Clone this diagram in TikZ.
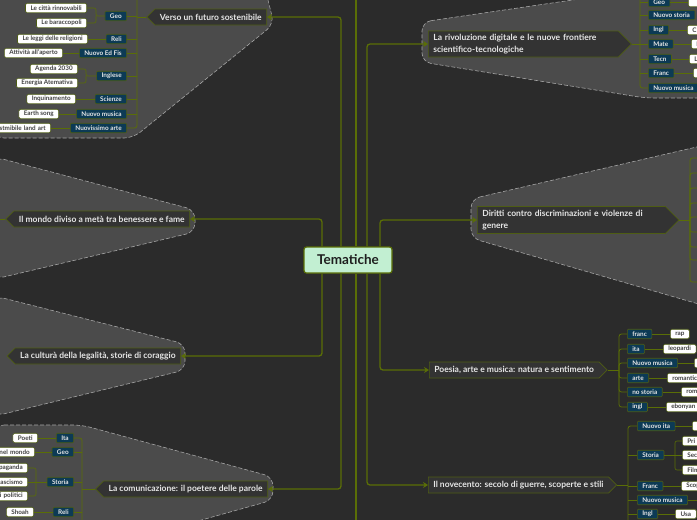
\documentclass[tikz,border=0pt]{standalone}
\usepackage{fontspec}
\setmainfont{Lato}
\usetikzlibrary{arrows.meta,shapes.symbols}
\definecolor{canvas}{HTML}{2B2B2B}
\definecolor{zone}{HTML}{4B4B4B}
\definecolor{zoneline}{HTML}{A5A5A5}
\definecolor{olive}{HTML}{5A6E06}
\definecolor{oliveedge}{HTML}{4E5D14}
\definecolor{topicfill}{HTML}{333333}
\definecolor{subjfill}{HTML}{0C3A55}
\definecolor{mint}{HTML}{C2EFD2}
\definecolor{ink}{HTML}{1E1E1E}
\definecolor{chalk}{HTML}{E6E6E6}
\tikzset{
  zonearea/.style={fill=zone, draw=zoneline, dash pattern=on 4pt off 2pt, line width=0.6pt, rounded corners=9pt},
  rootbox/.style={fill=mint, draw=olive, line width=1.2pt, rounded corners=2.5pt, minimum width=88pt, minimum height=26pt,
    font=\bfseries\fontsize{13.5}{16}\selectfont, text=ink},
  topic/.style={shape=signal, signal pointer angle=90, fill=topicfill, draw=oliveedge, line width=0.7pt, text=chalk,
    font=\bfseries\fontsize{8.5}{11.5}\selectfont, minimum height=16pt, inner xsep=5pt, inner ysep=2pt},
  topicl/.style={topic, signal to=west},
  topicr/.style={topic, signal to=east, align=left},
  subj/.style={fill=subjfill, draw=oliveedge, line width=0.6pt, rounded corners=1pt, text=chalk,
    font=\bfseries\fontsize{6.4}{7}\selectfont, minimum height=9.5pt, inner xsep=5pt, inner ysep=0pt},
  leaf/.style={fill=white, draw=oliveedge, line width=0.6pt, rounded corners=1.5pt, text=ink!85,
    font=\bfseries\fontsize{6.3}{7}\selectfont, minimum height=9.5pt, inner xsep=5pt, inner ysep=0pt},
  cutleft/.style={leaf, text width=#1, align=right},
  cutright/.style={leaf, text width=#1, align=left},
  trunk/.style={draw=olive, line width=1.3pt, rounded corners=3pt, -{Stealth[length=5pt, width=6pt]}},
  branch/.style={draw=olive, line width=0.8pt, rounded corners=2.5pt},
  twig/.style={draw=olive, line width=0.6pt, rounded corners=2pt},
}

\begin{document}
\begin{tikzpicture}[x=1pt, y=-1pt]
    \useasboundingbox (0,0) rectangle (697,520);
    \fill[canvas] (0,0) rectangle (697,520);
    \clip (0,0) rectangle (697,520);
    % grey zones round the open topics
    \path[zonearea] (-5,-12) -- (265,-12) -- (274,24) -- (133,138) -- (-5,138) -- cycle;
    \path[zonearea] (-5,157) -- (195,210) -- (195,232) -- (-5,279) -- cycle;
    \path[zonearea] (-5,296) -- (185,344) -- (185,370) -- (-5,416) -- cycle;
    \path[zonearea] (-5,425) -- (82,425) -- (273,477) -- (273,500) -- (130,540) -- (-5,540) -- cycle;
    \path[zonearea] (422,22) -- (600,-4) -- (740,-25) -- (740,98) -- (645,98) -- (422,62) -- cycle;
    \path[zonearea] (471,199) -- (740,137) -- (740,316) -- (471,238) -- cycle;
    % root
    \node[rootbox] (tem) at (348,260) {Tematiche};
    % topics, left side
    \node[topicl, anchor=east] (verso) at (267,17) {Verso un futuro sostenibile};
    \node[topicl, anchor=east] (mondo) at (190,219) {Il mondo diviso a metà tra benessere e fame};
    \node[topicl, anchor=east] (legal) at (181,356) {La culturà della legalità, storie di coraggio};
    \node[topicl, anchor=east] (comun) at (268,489) {La comunicazione: il poetere delle parole};
    % topics, right side
    \node[topicr, anchor=west, text width=180pt, minimum height=26pt] (rivol) at (428,44) {La rivoluzione digitale e le nuove frontiere\\scientifico-tecnologiche};
    \node[topicr, anchor=west, text width=178pt, minimum height=27pt] (dirit) at (477,220) {Diritti contro discriminazioni e violenze di\\genere};
    \node[topicr, anchor=west] (poes) at (429,370) {Poesia, arte e musica: natura e sentimento};
    \node[topicr, anchor=west] (novec) at (428,485) {Il novecento: secolo di guerre, scoperte e stili};
    % root to topics
    \coordinate (uptop) at (356,-5);
    \coordinate (downbot) at (356,525);
    \draw[trunk] ([xshift=-7pt]tem.north) |- (verso.east);
    \draw[trunk] ([xshift=-26pt]tem.north) |- (mondo.east);
    \draw[trunk] ([xshift=-26pt]tem.south) |- (legal.east);
    \draw[trunk] ([xshift=-7pt]tem.south) |- (comun.east);
    \draw[trunk] ([xshift=19pt]tem.north) |- (rivol.west);
    \draw[trunk] ([xshift=32pt]tem.north) |- (dirit.west);
    \draw[trunk] ([xshift=32pt]tem.south) |- (poes.west);
    \draw[trunk] ([xshift=19pt]tem.south) |- (novec.west);
    \draw[trunk, -] ([xshift=8pt]tem.north) -- (uptop);
    \draw[trunk, -] ([xshift=8pt]tem.south) -- (downbot);
    % Verso un futuro sostenibile
    \node[subj, anchor=east] (vgeo) at (127,16) {Geo};
    \node[subj, anchor=east] (vreli) at (127,39) {Reli};
    \node[subj, anchor=east] (vedf) at (127,53) {Nuovo Ed Fis};
    \node[subj, anchor=east] (vingl) at (127,76) {Inglese};
    \node[subj, anchor=east] (vsci) at (127,99) {Scienze};
    \node[subj, anchor=east] (vmus) at (127,114) {Nuovo musica};
    \node[subj, anchor=east] (varte) at (127,128) {Nuovissimo arte};
    \node[leaf, anchor=east] (vcity) at (87,8) {Le città rinnovabili};
    \node[leaf, anchor=east] (vslum) at (87,23) {Le baraccopoli};
    \node[leaf, anchor=east] (vlaw) at (88,39) {Le leggi delle religioni};
    \node[leaf, anchor=east] (vout) at (63,53) {Attività all'aperto};
    \node[leaf, anchor=east] (vagen) at (78,69) {Agenda 2030};
    \node[leaf, anchor=east] (vener) at (78,83) {Energia Atemativa};
    \node[leaf, anchor=east] (vinq) at (76,99) {Inquinamento};
    \node[leaf, anchor=east] (vsong) at (59,114) {Earth song};
    \node[cutleft=62pt, anchor=east] (vland) at (51,128) {stmibile land art};
    \coordinate (vs) at (137,17);
    \coordinate (vtop) at (137,-5);
    \coordinate (vgb) at (96,16);
    \coordinate (vib) at (86,76);
    \draw[branch] (verso.west) -- (vs);
    \draw[branch] (vtop) |- (varte.east);
    \foreach \n in {vgeo,vreli,vedf,vingl,vsci,vmus}
      \draw[branch] (\n.east) -- (\n.east -| vs);
    \draw[twig] (vgeo.west) -- (vgb) |- (vcity.east);
    \draw[twig] (vgb) |- (vslum.east);
    \draw[twig] (vreli.west) -- (vlaw.east);
    \draw[twig] (vedf.west) -- (vout.east);
    \draw[twig] (vingl.west) -- (vib) |- (vagen.east);
    \draw[twig] (vib) |- (vener.east);
    \draw[twig] (vsci.west) -- (vinq.east);
    \draw[twig] (vmus.west) -- (vsong.east);
    \draw[twig] (varte.west) -- (vland.east);
    % Il mondo diviso / legalita
    \coordinate (mleft) at (-5,219);
    \draw[branch] (mondo.west) -- (mleft);
    % La comunicazione
    \node[subj, anchor=east] (cita) at (74,438) {Ita};
    \node[subj, anchor=east] (cgeo) at (74,452) {Geo};
    \node[subj, anchor=east] (cstor) at (74,482) {Storia};
    \node[subj, anchor=east] (creli) at (74,512) {Reli};
    \node[leaf, anchor=east] (cpoet) at (38,438) {Poeti};
    \node[cutleft=50pt, anchor=east] (cworld) at (35,452) {nel mondo};
    \node[cutleft=50pt, anchor=east] (cprop) at (28,468) {opaganda};
    \node[cutleft=50pt, anchor=east] (cfasc) at (28,482) {ascismo};
    \node[cutleft=50pt, anchor=east] (cpol) at (28,496) {i politici};
    \node[leaf, anchor=east] (cshoah) at (34,512) {Shoah};
    \coordinate (cs) at (82,489);
    \coordinate (cbot) at (82,525);
    \coordinate (csb) at (36,482);
    \draw[branch] (comun.west) -- (cs);
    \draw[branch] (cita.east) -| (cbot);
    \foreach \n in {cgeo,cstor,creli}
      \draw[branch] (\n.east) -- (\n.east -| cs);
    \draw[twig] (cita.west) -- (cpoet.east);
    \draw[twig] (cgeo.west) -- (cworld.east);
    \draw[twig] (cstor.west) -- (cfasc.east);
    \draw[twig] (csb) |- (cprop.east);
    \draw[twig] (csb) |- (cpol.east);
    \draw[twig] (creli.west) -- (cshoah.east);
    % La rivoluzione digitale
    \node[subj, anchor=west] (rgeo) at (648,2) {Geo};
    \node[subj, anchor=west] (rstor) at (648,15) {Nuovo storia};
    \node[subj, anchor=west] (ringl) at (648,30) {Ingl};
    \node[subj, anchor=west] (rmate) at (648,44) {Mate};
    \node[subj, anchor=west] (rtecn) at (648,59) {Tecn};
    \node[subj, anchor=west] (rfran) at (648,73) {Franc};
    \node[subj, anchor=west] (rmus) at (648,88) {Nuovo musica};
    \node[cutright=30pt, anchor=west] (rgeoa) at (688,2) {};
    \node[cutright=30pt, anchor=west] (ringla) at (687,30) {C};
    \node[cutright=30pt, anchor=west] (rmatea) at (691,44) {I};
    \node[cutright=30pt, anchor=west] (rtecna) at (689,59) {L};
    \node[cutright=30pt, anchor=west] (rfrana) at (693,73) {};
    \coordinate (rs) at (640,44);
    \coordinate (rtop) at (640,-5);
    \draw[branch] (rivol.east) -- (rs);
    \draw[branch] (rtop) |- (rmus.west);
    \foreach \n in {rgeo,rstor,ringl,rmate,rtecn,rfran}
      \draw[branch] (\n.west) -- (\n.west -| rs);
    \foreach \n in {rgeo,ringl,rmate,rtecn,rfran}
      \draw[twig] (\n.east) -- (\n a.west);
    % Diritti
    \coordinate (ds) at (690,220);
    \draw[branch] (dirit.east) -- (ds);
    \foreach \yy in {158,173,188,203,217,232,247,260,282}{
      \coordinate (dx\yy) at (700,\yy);
      \draw[branch] (ds) |- (dx\yy);
    }
    % Poesia, arte e musica
    \node[subj, anchor=west] (pfran) at (627,334) {franc};
    \node[subj, anchor=west] (pita) at (627,349) {ita};
    \node[subj, anchor=west] (pmus) at (627,363) {Nuovo musica};
    \node[subj, anchor=west] (parte) at (627,378) {arte};
    \node[subj, anchor=west] (pstor) at (627,392) {no storia};
    \node[subj, anchor=west] (pingl) at (627,407) {ingl};
    \node[leaf, anchor=west] (pfrana) at (670,334) {rap};
    \node[leaf, anchor=west] (pitaa) at (663,349) {leopardi};
    \node[cutright=30pt, anchor=west] (pmusa) at (694,363) {};
    \node[cutright=40pt, anchor=west] (partea) at (667,378) {romantic};
    \node[cutright=40pt, anchor=west] (pstora) at (681,392) {rom};
    \node[cutright=40pt, anchor=west] (pingla) at (666,407) {ebonyan};
    \coordinate (ps) at (619,370);
    \draw[branch] (poes.east) -- (ps);
    \foreach \n in {pfran,pita,pmus,parte,pstor,pingl}{
      \draw[branch] (ps) |- (\n.west);
      \draw[twig] (\n.east) -- (\n a.west);
    }
    % Il novecento
    \node[subj, anchor=west] (nita) at (637,426) {Nuovo ita};
    \node[subj, anchor=west] (nstor) at (637,455) {Storia};
    \node[subj, anchor=west] (nfran) at (637,486) {Franc};
    \node[subj, anchor=west] (nmus) at (637,500) {Nuovo musica};
    \node[subj, anchor=west] (ningl) at (637,514) {Ingl};
    \node[cutright=30pt, anchor=west] (nitaa) at (692,426) {};
    \node[cutright=30pt, anchor=west] (nwar1) at (682,441) {Pri};
    \node[cutright=30pt, anchor=west] (nwar2) at (682,455) {Sec};
    \node[cutright=30pt, anchor=west] (nfilm) at (682,470) {Film};
    \node[cutright=30pt, anchor=west] (nfrana) at (681,486) {Scop};
    \node[leaf, anchor=west, minimum width=21pt] (ningla) at (675,514) {Usa};
    \coordinate (ns) at (628,485);
    \coordinate (nbot) at (628,525);
    \coordinate (nsb) at (675,455);
    \coordinate (nmusx) at (700,500);
    \draw[branch] (novec.east) -- (ns);
    \draw[branch] (nita.west) -| (nbot);
    \foreach \n in {nstor,nfran,nmus,ningl}
      \draw[branch] (\n.west) -- (\n.west -| ns);
    \draw[twig] (nita.east) -- (nitaa.west);
    \draw[twig] (nstor.east) -- (nwar2.west);
    \draw[twig] (nsb) |- (nwar1.west);
    \draw[twig] (nsb) |- (nfilm.west);
    \draw[twig] (nfran.east) -- (nfrana.west);
    \draw[twig] (nmus.east) -- (nmusx);
    \draw[twig] (ningl.east) -- (ningla.west);
\end{tikzpicture}
\end{document}
